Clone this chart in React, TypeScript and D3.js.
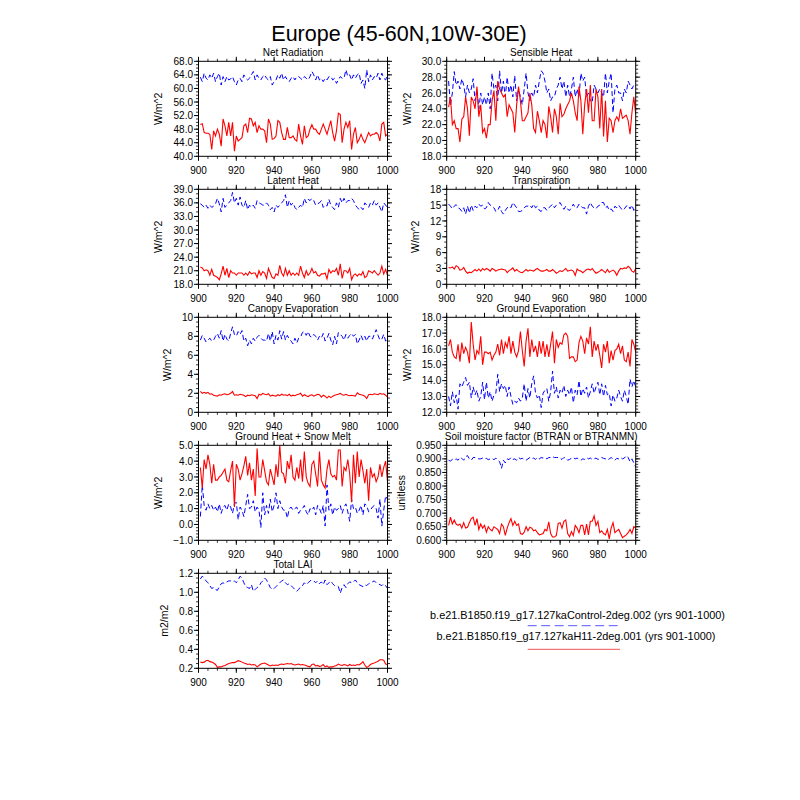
import React from "react";
import * as d3 from "d3";

// ---------------- data (years 901-1000) ----------------
const xTicks = [900, 920, 940, 960, 980, 1000];

const netRadH11 = [
  49.4,49.6,47,46.8,46.8,46.5,42,47.5,46,48,
  46.5,43,51,49,46,50,46,50,41.5,46,
  44.5,45,45.5,49,49.5,47,51.2,51,49,50,
  47,49,48,48,47.5,44,51,49.5,45,45.2,
  46,50.5,50,47,45,45,48.5,45.5,45.5,46,
  45,44.5,49.5,46,43.5,49,45.5,46,48,49.3,
  48,48,47,46.5,48,49.5,48,46.5,48.5,50.5,
  47,44.5,47.5,52.7,52.3,44,48,50,48.5,50.5,
  42,46.5,48.5,44,45,46.5,45,44,45.5,47,
  46,46.5,46.5,47,46.5,44.5,49.5,50,46,46.5];
const netRadCtl = [
  63.3,62,64.5,63,62.5,64,63,64.5,62,63.5,
  64.5,61,63.5,62,63.5,62.5,62.8,63.5,62,61,
  62.5,63,62,64,63,62.5,63,64,65,62.5,
  64,63,62.5,63.5,64,63,62.5,63.5,61,62,
  62.5,64,63,64.5,62.5,63.5,62.5,62,63,63.5,
  62.5,63.5,63.5,63,62.5,63.5,63,62.5,63.5,65,
  64,62.5,64,62.5,63,62,63,62.5,63.5,63.5,
  62.5,63,61.5,62.5,63.5,63,63,65.5,63.5,64,
  62.5,64,63,64,64.5,61.5,62.5,60,65.5,62,
  64,62.5,63.5,63,64.5,62.5,64.5,63,62.5,64];

const sensH11 = [
  24.2,25.5,22,22.5,21.5,21.5,19.8,22.7,23,25.5,
  24,20.6,25.5,25,24,26.8,23,24.5,21,21.5,
  20.3,22,22,25,26.3,22.5,27.5,26.5,26,25.5,
  25.8,23,24.5,24,23.5,21,24.5,26.8,25,22.5,
  22.5,23,23.5,26,24.5,21.5,21,23.7,22.5,21,
  22.5,22,20.3,24.3,23,21,24,23,20.8,24.7,
  23,23.3,24,24.5,25,26,25,23.5,22.5,26.8,
  25,20.8,24.5,26.5,23.5,27,22.5,22.5,26.5,25.5,
  21.5,26.5,20.5,25,19.8,22.8,22.5,21,22.5,23,
  22.5,24,22.8,23,23.2,22.5,20.8,23.5,25.5,23.3];
const sensCtl = [
  27.5,24.5,26,28.7,27,27.5,26.5,27.8,27,25.5,
  27,26,26.5,27.8,25,26.5,24,26,24.5,25.5,
  24.5,26,24,28.5,26.5,27,25,28.8,26,27.5,
  25.5,28,26,27,25.5,28.2,25,26.5,25.5,24.5,
  26.5,28.5,26,25,26,25.5,27,26,27.5,28.8,
  28.5,27.5,26,26.5,25,25.5,25.5,26.5,27,28,
  26.5,27.5,25.5,27,25.5,26.5,28,25.5,26.5,25.5,
  28.5,27.5,28,25.5,26,25,24.8,27,26.5,26,
  26.5,26,25.5,28.5,26,27.5,28.5,23.5,26.5,27,
  26,26,25,26.5,26,27.5,27,26.5,27,27];

const latH11 = [
  21.8,21.6,21,21.2,21,20,21.3,20,19.8,19.5,
  19,20.3,22,20,21.5,19.5,21,20.5,20.5,20,
  20.5,20.5,20.5,20,20.5,20,20.8,20.3,20.5,20.5,
  19.5,21,20,20.8,20.5,19.3,21.5,20.5,19.5,19.3,
  20.3,20,22.2,20.5,19.8,21.5,20,21,20,20.5,
  20,20.5,20,22,20.5,19.5,21,20,20.5,21.5,
  20.5,20.8,20,19.8,20.3,20.3,20.5,19.2,21.3,20.5,
  21,20.8,21.5,20,22.5,19.3,21,21,20.5,21.5,
  19,20,20.3,19.8,20.3,20,20.8,19.5,19.8,21,
  20.8,20.5,21,20.5,20,20.5,22,20.3,21.3,20];
const latCtl = [
  35.8,35.5,35,35.5,34.8,35.5,35,35.3,35.8,37,
  35.8,34,37,35,35.5,36,36.5,38.3,36,37,
  35.5,37.3,35.5,35,36.5,34.5,35.5,35,35.5,34.8,
  36.5,36,35.8,35.5,35.5,36,35.5,34.5,35,34,
  35.5,35,35.5,36,36.5,37.8,35,36.5,35.5,36,
  35,34.5,35,35.5,35,37,36,36.8,36.5,37,
  36.5,35.5,35.8,36,36.5,35,35.5,35.3,36.8,35.5,
  35,34.5,36,35,37,36,37,36,36.5,36.5,
  37,36.5,35.5,35,34.5,35,34.5,36,35.5,35,
  36,35.5,36.5,35.5,36,35,34,36,35.5,35];

const trH11 = [
  3.2,3.1,3.3,2.9,3.5,3.3,2.7,2.8,3.2,2.5,
  2.1,2.3,2.2,2.5,2.8,2.5,2.9,2.5,3,2.7,
  3,2.8,2.5,3,2.8,2.5,2.7,2.8,2.9,2.8,
  2.7,2.2,2.6,2.8,3.1,2.5,2.8,2.5,2.3,2.2,
  2.5,2.8,2.5,2.7,2.6,2.5,2.8,3,2.7,2.5,
  2.5,2.6,2.8,2.5,2.5,2.8,2.5,2.1,2.3,2.6,
  2.4,2.7,3,2.5,2.6,2.7,2.5,1.7,2.9,2.6,
  2.5,2.2,2.5,2.8,2.9,2.7,3,2.5,2.1,2.3,
  2.5,2.8,2.5,2.2,2.8,2.3,2.5,2.7,2.4,1.7,
  2.5,3,2.9,3.1,3,3.4,3.1,2.5,2.3,3];
const trCtl = [
  15.2,14.8,14.3,14.8,15.1,14.5,14.3,13.8,14.5,13.3,
  14.8,13.5,15,14,14.8,14.5,15.2,14.8,15,14.3,
  14.5,15.5,15,14.8,14.5,13.8,14,14.8,13.8,13.3,
  14,14.5,14.8,14.5,15.5,15,14.5,13.8,13.8,14,
  14.5,14.8,14.8,15,14.5,15.2,14.5,14.8,14,13.8,
  14.5,14.5,14,14.5,14.8,15.2,14.5,15,15.2,15.5,
  14.8,14.2,14.8,14.2,14,14.5,15.2,14.5,14.5,15.2,
  14.8,14.5,14.5,13.3,14.8,15.5,14.8,14.5,14.3,14.8,
  15,15.5,15.5,14.5,14.8,14,14.3,13.8,14.8,14.5,
  15,14.5,14,14.3,14.8,15,14.3,15,14,14.5];

const canH11 = [
  2.2,2.0,2.1,2.0,2.1,1.9,1.95,1.8,1.75,1.7,
  1.85,1.8,1.9,1.95,1.85,1.9,2.0,2.2,1.8,1.85,
  1.8,1.9,1.85,1.8,1.65,1.8,1.75,1.85,1.8,1.75,
  1.45,1.9,1.8,2.0,1.9,1.85,1.95,1.7,1.8,1.75,
  1.7,1.85,1.75,1.9,1.8,1.85,1.75,1.9,1.7,1.8,
  1.75,1.85,1.9,2.0,1.7,1.85,1.75,1.65,1.8,1.85,
  1.7,1.8,1.9,1.85,1.6,1.8,1.7,1.5,1.7,1.55,
  1.7,1.8,1.85,1.9,2.0,1.85,1.8,1.9,1.8,1.75,
  1.8,1.75,1.7,2.05,1.9,1.85,1.8,1.7,1.45,1.85,
  1.9,1.85,1.95,1.9,1.85,2.0,1.9,1.95,1.8,1.6];
const canCtl = [
  7.6,8.1,7.8,7.4,7.6,7.8,7.5,7.6,8.0,8.3,
  7.8,8.6,7.5,8.2,7.7,7.5,8.3,9.0,8.2,8.0,
  8.5,8.2,8.6,7.5,7.8,7.0,7.6,7.2,7.8,7.5,
  7.9,8.1,7.8,7.6,7.6,7.5,8.3,7.5,8.5,7.2,
  8.1,7.6,8.6,7.7,8.5,7.6,8.1,7.7,7.5,7.2,
  7.8,7.3,7.8,7.9,8.4,8.5,8.1,8.5,8.0,7.9,
  8.2,8.0,7.6,8.0,7.8,8.3,7.5,7.8,8.3,7.6,
  7.1,8.0,7.2,8.4,8.2,8.0,7.6,8.2,7.8,8.1,
  8.3,8.0,8.2,7.2,7.6,8.1,7.6,8.0,7.5,8.0,
  8.0,7.7,8.2,8.7,8.1,7.6,7.7,8.2,7.5,7.6];

const gevH11 = [
  16.2,16.6,15.8,15.5,15.4,16.3,15.2,16.4,15.7,16.1,
  15.8,15.1,17.7,16.3,15.3,15.9,15.7,16.8,15.0,15.8,
  15.8,15.7,15.8,15.3,15.6,15.8,16.3,15.6,16.6,15.7,
  16.4,16.1,16.8,15.7,16.5,15.8,15.5,15.9,17.1,15.9,
  14.9,16.5,17.3,15.5,16.6,15.8,16.2,15.5,16.5,15.7,
  16.5,15.5,16.3,15.5,16.3,17.1,15.1,16.6,16.1,16.4,
  16.3,16.9,17.0,16.8,15.4,15.5,15.5,15.2,15.3,16.4,
  16.8,16.5,15.7,16.7,16.3,17.4,15.5,16.5,15.9,16.3,
  15.6,14.8,16.3,15.8,16.5,15.1,15.9,15.3,15.9,16.0,
  16.3,15.7,16.2,15.3,15.2,15.8,14.9,16.6,16.3,15.8];
const gevCtl = [
  13.0,12.4,13.3,12.6,13.1,12.2,13.8,13.6,13.9,14.2,
  13.7,13.9,12.9,13.6,13.1,13.4,12.7,13.0,13.9,12.8,
  13.9,12.9,13.3,12.7,13.1,13.2,14.4,13.3,13.8,13.5,
  13.7,13.0,13.6,13.0,12.5,12.7,12.6,12.9,12.7,12.9,
  13.8,12.7,13.5,12.9,13.8,14.3,13.2,12.9,13.1,12.3,
  13.2,13.4,13.5,12.7,13.3,14.6,13.2,13.6,12.9,13.4,
  13.2,13.7,13.0,13.4,13.1,13.6,12.6,13.4,13.1,14.0,
  13.0,13.5,13.2,13.6,12.9,13.3,13.8,13.2,13.6,13.9,
  13.1,13.8,13.0,13.7,13.1,13.2,12.4,13.1,12.7,12.9,
  13.4,13.0,12.7,13.4,13.0,12.5,14.1,13.6,14.0,13.6];

const ghH11 = [
  3.6,2.3,4.1,3.5,4.4,3.8,2.6,3.8,2.8,2.8,
  3.0,3.1,3.3,3.5,2.8,2.7,3.4,4.0,1.1,3.8,
  3.5,2.8,3.2,3.7,4.3,3.1,3.9,2.8,3.5,1.8,
  4.8,3.0,3.0,4.1,3.4,2.7,2.5,3.5,3.0,2.5,
  3.8,3.0,5.0,3.3,3.2,2.6,4.0,3.5,4.4,3.0,
  2.8,3.6,2.9,4.1,2.7,4.6,3.0,2.6,2.4,3.8,
  4.0,3.2,2.4,4.6,2.8,2.5,2.3,3.5,4.1,3.2,
  3.0,3.1,2.8,4.7,4.7,2.4,3.6,3.4,4.1,3.2,
  1.4,4.4,2.6,4.6,3.0,4.1,3.4,2.6,3.5,1.5,
  3.6,3.0,3.2,2.7,3.0,3.8,3.0,3.6,4.0,2.7];
const ghCtl = [
  0.5,2.5,1.2,0.9,1.3,1.0,1.2,0.9,1.1,0.8,
  1.3,0.7,1.1,1.2,0.9,1.3,1.1,0.7,1.3,1.4,
  0.3,1.1,0.9,0.5,1.2,1.9,1.0,1.1,1.5,0.8,
  1.1,0.9,-0.2,2.0,0.6,1.2,0.7,1.6,0.8,1.2,
  2.0,1.0,1.5,1.1,0.9,0.9,0.4,1.0,1.1,0.9,
  1.0,1.1,0.7,0.9,1.0,1.2,0.8,0.6,1.0,0.9,
  1.1,0.6,1.2,1.0,0.7,1.2,-0.1,2.5,0.9,1.3,
  0.6,1.1,0.9,1.0,1.2,0.7,1.1,1.3,0.8,0.2,
  1.6,1.0,1.1,0.7,0.9,1.2,0.6,1.3,1.2,0.8,
  0.9,1.1,1.2,1.0,0.4,1.6,-0.1,0.9,1.8,1.6];

const btH11 = [
  0.655,0.685,0.66,0.675,0.66,0.655,0.66,0.645,0.665,0.645,
  0.648,0.665,0.68,0.685,0.655,0.68,0.64,0.66,0.645,0.655,
  0.63,0.65,0.64,0.635,0.65,0.645,0.64,0.625,0.66,0.65,
  0.618,0.645,0.665,0.68,0.655,0.67,0.655,0.66,0.625,0.622,
  0.63,0.65,0.635,0.648,0.645,0.635,0.638,0.628,0.62,0.622,
  0.625,0.64,0.635,0.668,0.625,0.612,0.612,0.618,0.662,0.665,
  0.645,0.67,0.675,0.625,0.613,0.632,0.618,0.655,0.645,0.628,
  0.655,0.655,0.62,0.66,0.62,0.67,0.67,0.69,0.655,0.67,
  0.628,0.635,0.625,0.62,0.64,0.605,0.645,0.665,0.628,0.635,
  0.64,0.625,0.61,0.615,0.62,0.628,0.64,0.625,0.65,0.645];
const btCtl = [
  0.895,0.892,0.898,0.895,0.9,0.895,0.905,0.902,0.895,0.908,
  0.912,0.9,0.895,0.905,0.905,0.902,0.9,0.9,0.903,0.9,
  0.902,0.897,0.9,0.902,0.897,0.903,0.895,0.89,0.865,0.895,
  0.885,0.9,0.897,0.905,0.898,0.9,0.895,0.905,0.9,0.902,
  0.898,0.895,0.9,0.905,0.9,0.903,0.898,0.905,0.9,0.905,
  0.903,0.905,0.9,0.905,0.905,0.908,0.905,0.905,0.905,0.902,
  0.898,0.905,0.903,0.895,0.898,0.902,0.905,0.9,0.903,0.898,
  0.895,0.9,0.898,0.905,0.9,0.903,0.898,0.9,0.903,0.898,
  0.9,0.905,0.902,0.9,0.895,0.9,0.905,0.9,0.895,0.902,
  0.9,0.905,0.9,0.903,0.912,0.905,0.89,0.9,0.885,0.87];

const laiH11 = [
  0.265,0.26,0.265,0.28,0.285,0.27,0.265,0.255,0.24,0.21,
  0.215,0.215,0.225,0.23,0.24,0.25,0.255,0.26,0.26,0.27,
  0.28,0.275,0.265,0.255,0.25,0.24,0.245,0.235,0.24,0.235,
  0.215,0.23,0.245,0.25,0.255,0.245,0.235,0.225,0.235,0.23,
  0.235,0.23,0.24,0.245,0.24,0.245,0.25,0.245,0.25,0.24,
  0.235,0.24,0.245,0.235,0.24,0.235,0.23,0.22,0.215,0.24,
  0.245,0.225,0.23,0.22,0.225,0.24,0.215,0.225,0.21,0.215,
  0.215,0.225,0.23,0.245,0.235,0.23,0.24,0.235,0.225,0.24,
  0.23,0.235,0.23,0.24,0.235,0.25,0.27,0.235,0.21,0.22,
  0.24,0.25,0.255,0.265,0.275,0.29,0.29,0.285,0.245,0.24];
const laiCtl = [
  1.14,1.17,1.15,1.12,1.1,1.07,1.04,1.05,1.03,1.02,
  1.06,1.09,1.1,1.09,1.11,1.12,1.12,1.11,1.12,1.1,
  1.13,1.17,1.15,1.1,1.06,1.05,1.04,1.08,1.01,1.03,
  1.05,1.06,1.1,1.12,1.15,1.13,1.09,1.05,1.03,1.04,
  1.06,1.08,1.1,1.12,1.13,1.1,1.08,1.09,1.07,1.05,
  1.03,1.01,1.03,1.06,1.07,1.1,1.08,1.1,1.12,1.13,
  1.12,1.1,1.12,1.09,1.11,1.08,1.13,1.08,1.1,1.12,
  1.09,1.07,1.07,1.06,0.99,1.05,1.08,1.05,1.09,1.11,
  1.1,1.11,1.13,1.1,1.08,1.07,1.06,1.08,1.07,1.09,
  1.1,1.11,1.12,1.1,1.09,1.08,1.07,1.09,1.07,1.04];

const titles = [
  "Net Radiation", "Sensible Heat", "Latent Heat", "Transpiration",
  "Canopy Evaporation", "Ground Evaporation", "Ground Heat + Snow Melt",
  "Soil moisture factor (BTRAN or BTRANMN)", "Total LAI",
];
const units = ["W/m^2", "W/m^2", "W/m^2", "W/m^2", "W/m^2", "W/m^2", "W/m^2", "unitless", "m2/m2"];
const yMins = [40, 18, 18, 0, 0, 12, -1, 0.6, 0.2];
const yMaxs = [68, 30, 39, 18, 10, 18, 5, 0.95, 1.2];
const yMajor = [4, 2, 3, 3, 2, 1, 1, 0.05, 0.2];
const yMinor = [1, 0.5, 1, 1, 0.5, 0.2, 0.2, 0.01, 0.05];
const yFormats = [".1f", ".1f", ".1f", "d", "d", ".1f", ".1f", ".3f", ".1f"];
const h11Series = [netRadH11, sensH11, latH11, trH11, canH11, gevH11, ghH11, btH11, laiH11];
const ctlSeries = [netRadCtl, sensCtl, latCtl, trCtl, canCtl, gevCtl, ghCtl, btCtl, laiCtl];

const mainTitle = "Europe (45-60N,10W-30E)";
const legendLabels = [
  "b.e21.B1850.f19_g17.127kaControl-2deg.002 (yrs 901-1000)",
  "b.e21.B1850.f19_g17.127kaH11-2deg.001 (yrs 901-1000)",
];

// ---------------- layout ----------------
const FONT = "'Liberation Sans', Arial, Helvetica, sans-serif";
const colX = [198.5, 446.7];
const rowY0 = 61.3;
const rowStep = 128;
const PW = 189;
const PH = 95;
const MAJ = 4.5;
const MIN = 2.5;

function steps(lo: number, hi: number, step: number): number[] {
  const n = Math.round((hi - lo) / step);
  const out: number[] = [];
  for (let i = 0; i <= n; i++) out.push(+(lo + i * step).toFixed(6));
  return out;
}

function Panel({ idx }: { idx: number }) {
  const col = idx % 2;
  const row = Math.floor(idx / 2);
  const left = colX[col];
  const top = rowY0 + row * rowStep;
  const x = d3.scaleLinear().domain([900, 1000]).range([0, PW]);
  const y = d3.scaleLinear().domain([yMins[idx], yMaxs[idx]]).range([PH, 0]);
  const fmt = d3.format(yFormats[idx]);
  const yMaj = steps(yMins[idx], yMaxs[idx], yMajor[idx]);
  const yMin = steps(yMins[idx], yMaxs[idx], yMinor[idx]);
  const xMin = steps(900, 1000, 5);
  const line = d3
    .line<number>()
    .x((_, i) => x(901 + i))
    .y((d) => y(d));
  const yLabels = yMaj.map((v) => fmt(v));
  const maxLen = d3.max(yLabels, (s) => s.length) || 3;
  const labelW = maxLen * 5.6 - (yLabels[0].includes(".") ? 2.8 : 0);
  const ylabX = -5.5 - labelW - 11;
  const tickPath = (len: number, xs: number[], ys: number[]) => {
    let p = "";
    xs.forEach((v) => {
      const px = x(v);
      p += `M${px},${PH}v${len}M${px},0v${-len}`;
    });
    ys.forEach((v) => {
      const py = y(v);
      p += `M0,${py}h${-len}M${PW},${py}h${len}`;
    });
    return p;
  };
  return (
    <g transform={`translate(${left},${top})`}>
      <defs>
        <clipPath id={`clip${idx}`}>
          <rect x={0} y={0} width={PW} height={PH} />
        </clipPath>
      </defs>
      <g clipPath={`url(#clip${idx})`}>
        <path d={line(ctlSeries[idx]) || ""} fill="none" stroke="#0000ff" strokeWidth={1} strokeDasharray="5,3" />
        <path d={line(h11Series[idx]) || ""} fill="none" stroke="#ff0000" strokeWidth={1.1} />
      </g>
      <rect x={0} y={0} width={PW} height={PH} fill="none" stroke="#000" strokeWidth={1} />
      <path d={tickPath(MAJ, xTicks, yMaj)} stroke="#000" strokeWidth={1} fill="none" />
      <path d={tickPath(MIN, xMin, yMin)} stroke="#000" strokeWidth={0.8} fill="none" />
      {xTicks.map((t) => (
        <text key={t} x={x(t)} y={PH + 17.5} textAnchor="middle" fontSize={10} fontFamily={FONT}>
          {t}
        </text>
      ))}
      {yMaj.map((t, i) => (
        <text key={i} x={-5.5} y={y(t) + 3.6} textAnchor="end" fontSize={10} fontFamily={FONT}>
          {yLabels[i]}
        </text>
      ))}
      <text x={PW / 2} y={-5} textAnchor="middle" fontSize={10} fontFamily={FONT}>
        {titles[idx]}
      </text>
      <text
        transform={`translate(${ylabX},${PH / 2}) rotate(-90)`}
        textAnchor="middle"
        fontSize={10.5}
        fontFamily={FONT}
      >
        {units[idx]}
      </text>
    </g>
  );
}

export default function App() {
  return (
    <svg
      width={800}
      height={800}
      style={{ position: "absolute", left: 0, top: 0, background: "#fff" }}
    >
      <rect x={0} y={0} width={800} height={800} fill="#fff" />
      <text x={399} y={41} textAnchor="middle" fontSize={21.5} fontFamily={FONT}>
        {mainTitle}
      </text>
      {titles.map((_, i) => (
        <Panel key={i} idx={i} />
      ))}
      <g fontFamily={FONT} fontSize={10.9}>
        <text x={577.5} y={618.5} textAnchor="middle">{legendLabels[0]}</text>
        <line x1={527.7} x2={620} y1={625.7} y2={625.7} stroke="#5555ff" strokeWidth={1} strokeDasharray="9,4.5" />
        <text x={576} y={640} textAnchor="middle">{legendLabels[1]}</text>
        <line x1={527.7} x2={620} y1={649.3} y2={649.3} stroke="#ee5555" strokeWidth={1} />
      </g>
    </svg>
  );
}
